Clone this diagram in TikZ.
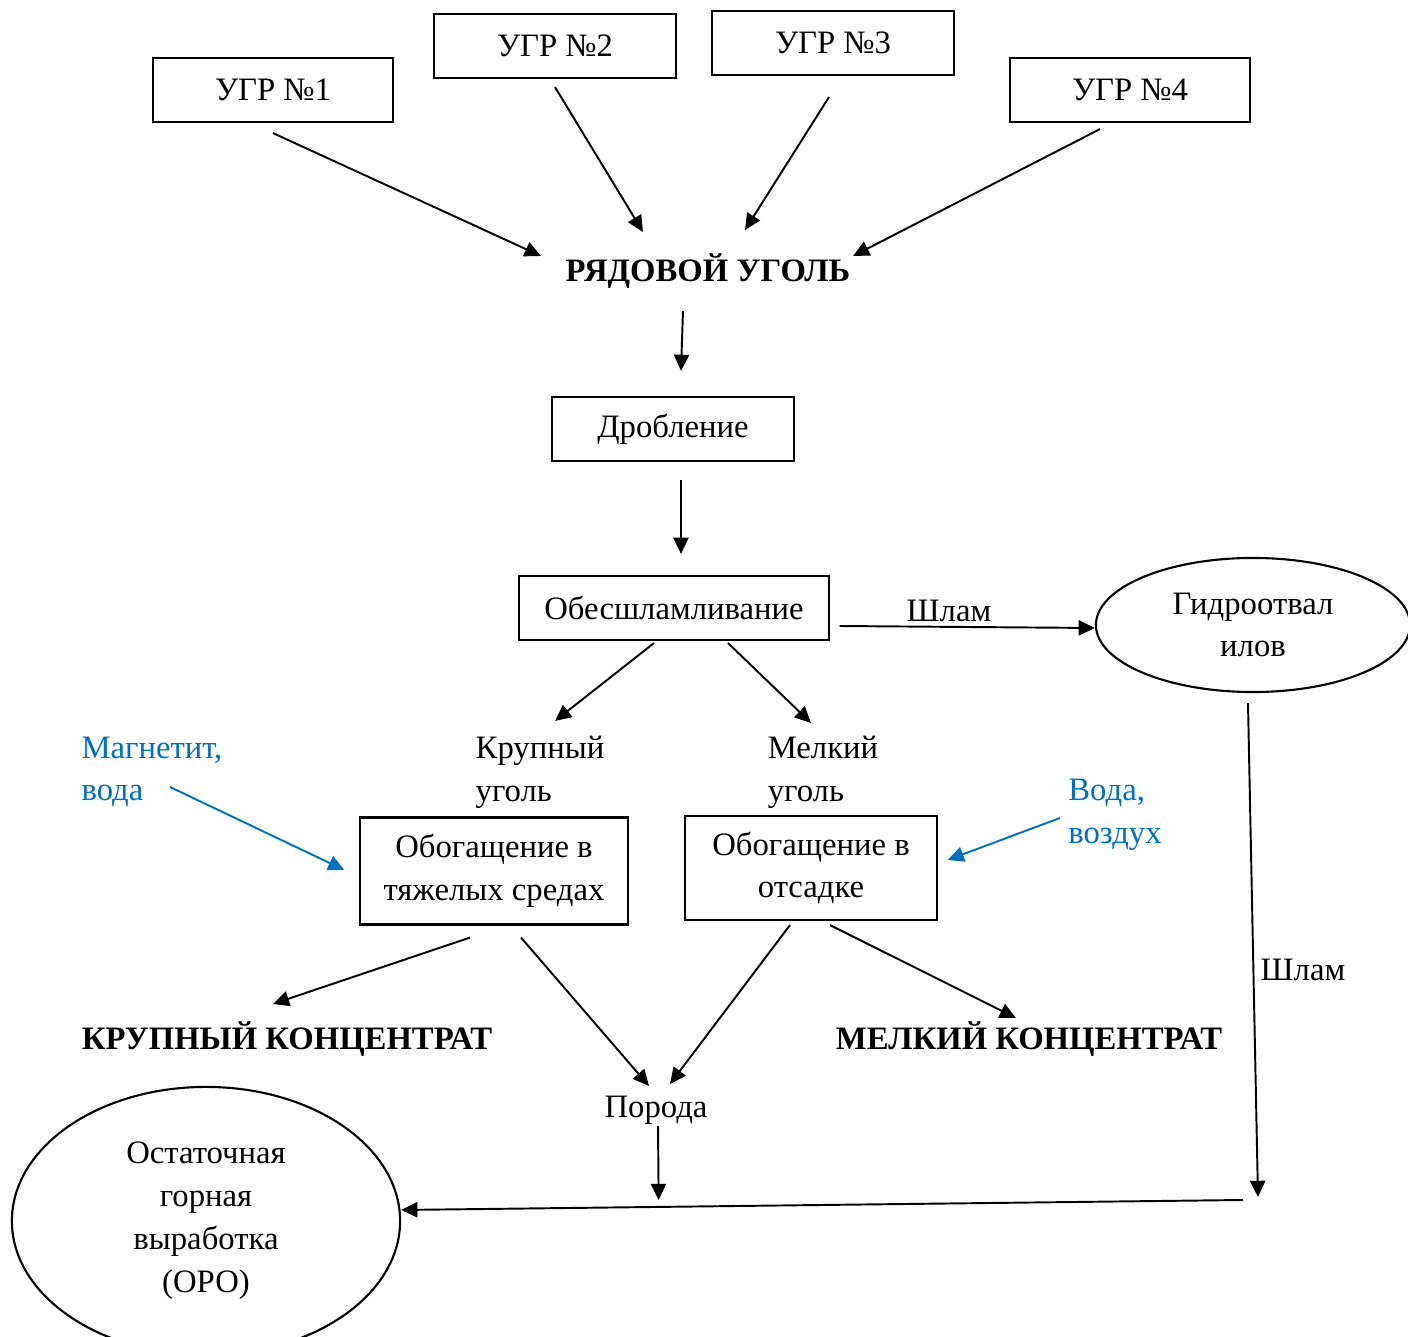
\documentclass[tikz,border=0pt]{standalone}
\usepackage{fontspec}
\setmainfont{Liberation Serif}
\usepackage{tikz}
\usetikzlibrary{arrows.meta,positioning,shapes.geometric}
\definecolor{msblue}{RGB}{0,112,192}

\begin{document}
\begin{tikzpicture}[x=0.01cm, y=-0.01cm, ->, >={Triangle[length=4.6pt,width=4.3pt]}, line width=0.55pt,
  every node/.style={font=\fontsize{9.3pt}{12.2pt}\selectfont, align=center}]
\tikzstyle{box}=[draw, line width=0.6pt, inner sep=0pt]
\tikzstyle{ell}=[draw, ellipse, line width=0.6pt, inner sep=0pt]
\tikzstyle{bigtxt}=[inner sep=0pt, font=\fontsize{9.3pt}{12.2pt}\selectfont\bfseries]
\tikzstyle{feed}=[text=msblue, align=left]
\useasboundingbox (0,0) rectangle (1408,1337);

\node[box, minimum width=2.4cm, minimum height=0.64cm]   (U1) at (273,90)  {УГР №1};
\node[box, minimum width=2.41cm, minimum height=0.64cm]  (U2) at (555,46)  {УГР №2};
\node[box, minimum width=2.41cm, minimum height=0.64cm]  (U3) at (833,43)  {УГР №3};
\node[box, minimum width=2.4cm, minimum height=0.64cm]   (U4) at (1130,90) {УГР №4};

\node[bigtxt]   (RU) at (708,271) {РЯДОВОЙ УГОЛЬ};
\node[box, minimum width=2.41cm, minimum height=0.64cm]  (DR) at (673,429) {Дробление};
\node[box, minimum width=3.09cm, minimum height=0.64cm]  (OB) at (674,608) {Обесшламливание};
\node[ell, minimum width=3.14cm, minimum height=1.34cm]  (GO) at (1253,625) {Гидроотвал\\илов};
\node (SH1) at (949,611) {Шлам};

\node[align=left] (KU) at (540,772) {Крупный\\уголь};
\node[align=left] (MU) at (823,772) {Мелкий\\уголь};
\node[feed] (MV) at (152,772) {Магнетит,\\вода};
\node[feed] (VV) at (1115,815) {Вода,\\воздух};

\node[box, minimum width=2.67cm, minimum height=1.07cm]  (TS) at (494,871) {Обогащение в\\тяжелых средах};
\node[box, minimum width=2.51cm, minimum height=1.04cm]  (OT) at (811,868) {Обогащение в\\отсадке};

\node[bigtxt]   (KK) at (287,1039)  {КРУПНЫЙ КОНЦЕНТРАТ};
\node[bigtxt]   (MK) at (1029,1039) {МЕЛКИЙ КОНЦЕНТРАТ};
\node (PO) at (656,1110) {Порода};
\node (SH2) at (1303,970) {Шлам};
\node[ell, minimum width=3.88cm, minimum height=2.68cm]  (ORO) at (206,1221) {Остаточная\\горная\\выработка\\(ОРО)};
\coordinate (SB) at (1258,1197);

\path
([yshift=-0.10cm]U1.south)                 edge ([xshift=-1.67cm,yshift=0.15cm]RU.center)
([yshift=-0.08cm]U2.south)                 edge ([xshift=-0.65cm,yshift=0.39cm]RU.center)
([xshift=-0.04cm,yshift=-0.21cm]U3.south)  edge ([xshift=0.37cm,yshift=0.41cm]RU.center)
([xshift=-0.30cm,yshift=-0.06cm]U4.south)  edge ([xshift=1.45cm,yshift=0.15cm]RU.center)
([xshift=-0.25cm,yshift=-0.40cm]RU.center) edge ([xshift=0.08cm,yshift=0.25cm]DR.north)
([xshift=0.08cm,yshift=-0.18cm]DR.south)   edge ([xshift=0.07cm,yshift=0.21cm]OB.north)
([xshift=0.10cm,yshift=-0.18cm]OB.east)    edge ([yshift=-0.03cm]GO.west)
([xshift=-0.20cm,yshift=-0.02cm]OB.south)  edge ([xshift=0.15cm,yshift=0.51cm]KU.center)
([xshift=0.54cm,yshift=-0.02cm]OB.south)   edge ([xshift=-0.12cm,yshift=0.49cm]MU.center)
([xshift=-0.24cm,yshift=-0.12cm]TS.south)  edge ([xshift=-0.14cm,yshift=0.35cm]KK.center)
([xshift=0.27cm,yshift=-0.12cm]TS.south)   edge ([xshift=-0.07cm,yshift=0.24cm]PO.center)
([xshift=-0.21cm,yshift=-0.04cm]OT.south)  edge ([xshift=0.14cm,yshift=0.26cm]PO.center)
([xshift=0.19cm,yshift=-0.04cm]OT.south)   edge ([xshift=-0.13cm,yshift=0.21cm]MK.center)
([xshift=0.02cm,yshift=-0.16cm]PO.center)  edge ([xshift=-5.99cm,yshift=-0.03cm]SB)
([xshift=-0.05cm,yshift=-0.10cm]GO.south)  edge (SB)
([xshift=-0.15cm,yshift=-0.03cm]SB)        edge ([yshift=0.11cm]ORO.east);

% blue feeds
\path[color=msblue]
([xshift=0.18cm,yshift=-0.15cm]MV.center)  edge ([xshift=-0.15cm,yshift=0.01cm]TS.west)
([xshift=-0.55cm,yshift=-0.03cm]VV.center) edge ([xshift=0.10cm,yshift=0.08cm]OT.east);
\end{tikzpicture}
\end{document}
